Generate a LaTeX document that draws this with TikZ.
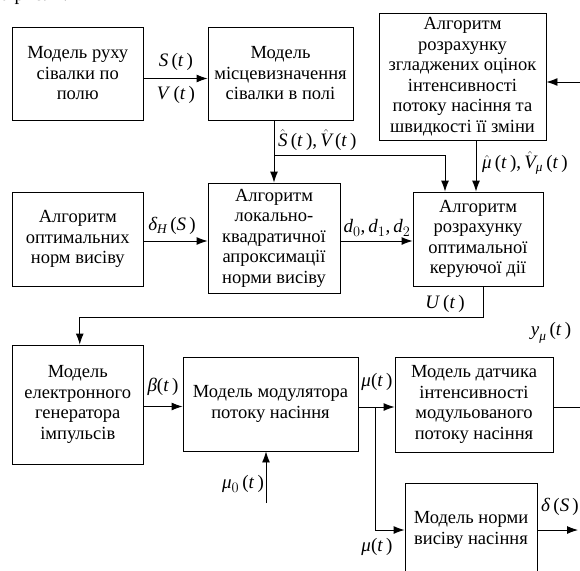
\documentclass[tikz,border=0pt]{standalone}
\usepackage{amsmath}
\usepackage{fontspec}
\setmainfont{Liberation Serif}
\usetikzlibrary{arrows.meta}
\newcommand{\vi}[1]{\textit{#1}}
\begin{document}
\begin{tikzpicture}[x=1pt,y=-1pt,
  blk/.style={draw,line width=0.9pt,align=center,inner sep=2pt,
    font=\rmfamily\fontsize{18.5}{20.5}\selectfont},
  arr/.style={line width=0.9pt,-{Latex[length=11pt,width=8pt]}},
  wire/.style={line width=0.9pt},
  lbl/.style={font=\rmfamily\fontsize{19}{20}\selectfont,inner sep=0pt}]
  \useasboundingbox (0,0) rectangle (580,570);
  \node[lbl,anchor=base west] (caption) at (-9,1) {на рис. 1.};
  % blocks
  \node[blk,minimum width=130.5,minimum height=93] (motion) at (77.75,73.5)
    {Модель руху\\сівалки по\\полю};
  \node[blk,minimum width=145,minimum height=93] (locate) at (280.5,73.5)
    {Модель\\місцевизначення\\сівалки в полі};
  \node[blk,minimum width=167,minimum height=127] (smooth) at (462.5,76.5)
    {Алгоритм\\розрахунку\\згладжених оцінок\\інтенсивності\\потоку насіння та\\швидкості її зміни};
  \node[blk,minimum width=130.5,minimum height=94] (norms) at (77.75,239)
    {Алгоритм\\оптимальних\\норм висіву};
  \node[blk,minimum width=132,minimum height=110] (approx) at (274,238)
    {Алгоритм\\локально-\\квадратичної\\апроксимації\\норми висіву};
  \node[blk,minimum width=130,minimum height=94] (control) at (478,239)
    {Алгоритм\\розрахунку\\оптимальної\\керуючої дії};
  \node[blk,minimum width=130.5,minimum height=119] (generator) at (77.75,404.5)
    {Модель\\електронного\\генератора\\імпульсів};
  \node[blk,minimum width=175,minimum height=94] (modulator) at (270.5,404)
    {Модель модулятора\\потоку насіння};
  \node[blk,minimum width=158,minimum height=95] (sensor) at (474,404.5)
    {Модель датчика\\інтенсивності\\модульованого\\потоку насіння};
  \node[blk,minimum width=132,minimum height=94] (rate) at (471,530)
    {Модель норми\\висіву насіння};
  % free ends
  \coordinate (feed) at (580,82);
  \coordinate (split1) at (274,155);
  \coordinate (split2) at (375,407);
  \coordinate (yout) at (580,407);
  \coordinate (dout) at (578,530);
  \coordinate (mu0) at (266,503);
  % connectors
  \draw[arr] ([yshift=-5pt]motion.east) -- ([yshift=-5pt]locate.west);
  \draw[arr] (feed) -- (feed -| smooth.east);
  \draw[arr] (approx.north |- locate.south) -- (approx.north);
  \draw[arr] (split1) -| ([xshift=-33pt]control.north);
  \draw[arr] ([xshift=-2pt]control.north |- smooth.south) -- ([xshift=-2pt]control.north);
  \draw[arr] ([yshift=-2pt]norms.east) -- ([yshift=-2pt]norms.east -| approx.west);
  \draw[arr] ([yshift=-2pt]control.west -| approx.east) -- ([yshift=-2pt]control.west);
  \draw[arr] ([xshift=5pt]control.south) -- ++(0,31) -| ([xshift=2pt]generator.north);
  \draw[arr] ([yshift=-2pt]generator.east) -- ([yshift=-2pt]generator.east -| modulator.west);
  \draw[arr] (modulator.east |- split2) -- (sensor.west |- split2);
  \draw[arr] (split2) |- (rate.west);
  \draw[wire] (sensor.east |- yout) -- (yout);
  \draw[arr] (rate.east) -- (dout);
  \draw[arr] (mu0) -- (mu0 |- modulator.south);
  % labels
  \node[lbl] (lS) at (176,62) {\vi{S}\,(\vi{t}\,)};
  \node[lbl] (lV) at (176,95) {\vi{V}\,(\vi{t}\,)};
  \node[lbl,anchor=west] (lSV) at (278,140)
    {$\hat{\vi{S}}$\,(\vi{t}\,),\,$\hat{\vi{V}}$\,(\vi{t}\,)};
  \node[lbl,anchor=west] (lmu) at (482,163)
    {$\hat{\vi{μ}}$\,(\vi{t}\,),\,$\hat{\vi{V}}_{\vi{μ}}$\,(\vi{t}\,)};
  \node[lbl] (ldH) at (172,226) {$\vi{δ}_{\vi{Н}}$\,(\vi{S}\,)};
  \node[lbl] (ld) at (377,228) {$\vi{d}_0$,\,$\vi{d}_1$,\,$\vi{d}_2$};
  \node[lbl] (lU) at (445,304) {\vi{U}\,(\vi{t}\,)};
  \node[lbl] (lbeta) at (163,387) {\vi{β}(\vi{t}\,)};
  \node[lbl] (lmu1) at (377,382) {\vi{μ}(\vi{t}\,)};
  \node[lbl] (ly) at (551,333) {$\vi{y}_{\vi{μ}}$\,(\vi{t}\,)};
  \node[lbl] (lmu0) at (243,484) {$\vi{μ}_0$\,(\vi{t}\,)};
  \node[lbl] (lmu2) at (377,547) {\vi{μ}(\vi{t}\,)};
  \node[lbl] (ldS) at (560,507) {\vi{δ}\,(\vi{S}\,)};
\end{tikzpicture}
\end{document}
